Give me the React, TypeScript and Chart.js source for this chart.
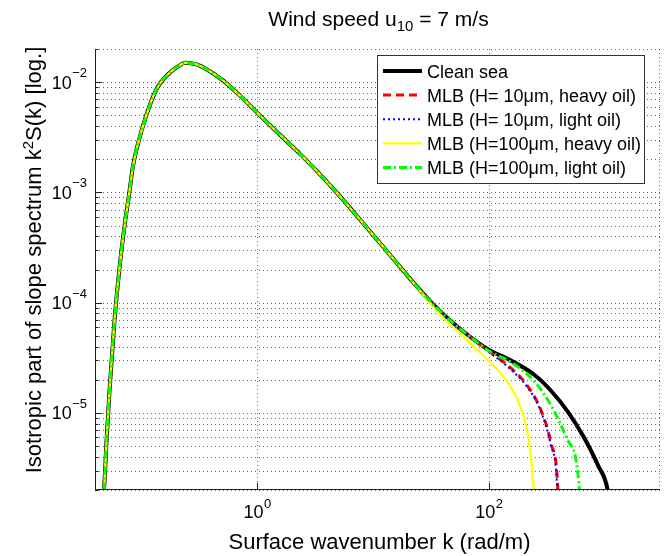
import React, { useEffect, useRef } from "react";
import { Chart, registerables } from "chart.js";

Chart.register(...registerables);

const FONT = '"Liberation Sans", Arial, Helvetica, sans-serif';

// ---------- data ----------
// shared part of all five spectra (k in rad/m, k^2 S(k))
const kCommon = [0.04372, 0.04774, 0.05028, 0.05338, 0.05897, 0.06515, 0.07197, 0.0795, 0.0849, 0.1036, 0.1354, 0.1765, 0.2154, 0.2379, 0.30, 0.3667, 0.5108, 0.7124, 0.994, 1.384, 1.931, 2.357, 3.512, 5.232, 7.796, 11.61, 16.2, 22.55];
const sCommon = [1.45e-6, 1.98e-6, 5.53e-6, 1.608e-5, 6.96e-5, 2.089e-4, 4.98e-4, 1.036e-3, 1.713e-3, 3.98e-3, 8.58e-3, 1.217e-2, 1.42e-2, 1.5e-2, 1.449e-2, 1.31e-2, 1.034e-2, 7.55e-3, 5.32e-3, 3.8e-3, 2.725e-3, 2.225e-3, 1.451e-3, 9.16e-4, 5.63e-4, 3.44e-4, 2.267e-4, 1.504e-4];

const kCleanTail = [33.61, 50.07, 69.87, 100.6, 145.2, 246.7, 344.2, 480, 668.6, 873.4, 1066, 1150];
const sCleanTail = [9.49e-5, 6.43e-5, 4.86e-5, 3.72e-5, 3.1e-5, 2.22e-5, 1.59e-5, 1.028e-5, 5.89e-6, 3.36e-6, 1.95e-6, 1.0e-6];

const kH10HeavyTail = [33.61, 50.07, 69.87, 100.6, 145.2, 216.3, 281.9, 344.2, 393.4, 402];
const sH10HeavyTail = [9.49e-5, 6.43e-5, 4.86e-5, 3.6e-5, 2.715e-5, 1.748e-5, 1.058e-5, 5.3e-6, 2.11e-6, 1.0e-6];

const kH10LightTail = [33.61, 50.07, 69.87, 100.6, 145.2, 216.3, 281.9, 342, 390, 398];
const sH10LightTail = [9.49e-5, 6.43e-5, 4.86e-5, 3.58e-5, 2.63e-5, 1.7e-5, 1.03e-5, 5.15e-6, 2.05e-6, 1.0e-6];

const kH100HeavyTail = [28.48, 38.4, 50.07, 65.4, 100.6, 145.2, 189.3, 223.4, 243.8, 250];
const sH100HeavyTail = [1.115e-4, 7.73e-5, 5.89e-5, 4.53e-5, 2.95e-5, 1.9e-5, 1.1e-5, 5.3e-6, 1.98e-6, 1.0e-6];

const kH100LightTail = [33.61, 50.07, 69.87, 100.6, 155.1, 246.7, 344.2, 480, 605.5, 618];
const sH100LightTail = [9.49e-5, 6.43e-5, 4.86e-5, 3.64e-5, 2.89e-5, 1.94e-5, 1.175e-5, 5.65e-6, 1.98e-6, 1.0e-6];

const seriesLabels = [
  "Clean sea",
  "MLB (H= 10\u03bcm, heavy oil)",
  "MLB (H= 10\u03bcm, light oil)",
  "MLB (H=100\u03bcm, heavy oil)",
  "MLB (H=100\u03bcm, light oil)",
];

const xTickValues = [1, 100];
const xTickExps = ["0", "2"];
const yTickValues = [1e-5, 1e-4, 1e-3, 1e-2];
const yTickExps = ["\u22125", "\u22124", "\u22123", "\u22122"];

const X_MIN = 0.04;
const X_MAX = 3000;
const Y_MIN = 2e-6;
const Y_MAX = 0.02;

// ---------- styles ----------
const seriesStyles = [
  { color: "#000000", width: 4, dash: [] as number[] },
  { color: "#ff0000", width: 3, dash: [8, 5] },
  { color: "#0000ff", width: 2, dash: [2, 3] },
  { color: "#ffff00", width: 2.3, dash: [] as number[] },
  { color: "#00ff00", width: 3, dash: [8, 3, 2, 3] },
];

const pts = (ks: number[], vs: number[]) => ks.map((k, i) => ({ x: k, y: vs[i] }));

const seriesData = [
  pts(kCommon.concat(kCleanTail), sCommon.concat(sCleanTail)),
  pts(kCommon.concat(kH10HeavyTail), sCommon.concat(sH10HeavyTail)),
  pts(kCommon.concat(kH10LightTail), sCommon.concat(sH10LightTail)),
  pts(kCommon.concat(kH100HeavyTail), sCommon.concat(sH100HeavyTail)),
  pts(kCommon.concat(kH100LightTail), sCommon.concat(sH100LightTail)),
];

function yGridValues(): number[] {
  const out: number[] = [];
  for (let d = -7; d <= -1; d++) {
    for (let m = 1; m <= 9; m++) {
      const v = Number((m * Math.pow(10, d)).toPrecision(3));
      if (v >= Y_MIN * 0.999 && v <= Y_MAX * 1.001) out.push(v);
    }
  }
  return out;
}

function textW(ctx: CanvasRenderingContext2D, t: string, size: number) {
  ctx.font = `${size}px ${FONT}`;
  return ctx.measureText(t).width;
}

const decorPlugin = {
  id: "decor",
  beforeDatasetsDraw(chart: any) {
    const { ctx, chartArea: a, scales } = chart;
    const xs = scales.x;
    const ys = scales.y;
    ctx.save();
    ctx.strokeStyle = "rgba(0,0,0,0.6)";
    ctx.lineWidth = 1;
    ctx.setLineDash([1, 3]);
    for (const v of yGridValues()) {
      const py = Math.round(ys.getPixelForValue(v)) + 0.5;
      ctx.beginPath();
      ctx.moveTo(a.left, py);
      ctx.lineTo(a.right, py);
      ctx.stroke();
    }
    for (const v of xTickValues) {
      const px = Math.round(xs.getPixelForValue(v)) + 0.5;
      ctx.beginPath();
      ctx.moveTo(px, a.top);
      ctx.lineTo(px, a.bottom);
      ctx.stroke();
    }
    const rx = Math.round(a.right) - 0.5;
    ctx.beginPath();
    ctx.moveTo(rx, a.top);
    ctx.lineTo(rx, a.bottom);
    ctx.stroke();
    ctx.restore();
  },
  afterDraw(chart: any) {
    const { ctx, chartArea: a, scales } = chart;
    const xs = scales.x;
    const ys = scales.y;
    ctx.save();
    ctx.setLineDash([]);
    ctx.strokeStyle = "#222";
    ctx.lineWidth = 1;
    const lx = Math.round(a.left) + 0.5;
    const by = Math.round(a.bottom) - 0.5;
    ctx.beginPath();
    ctx.moveTo(lx, a.top);
    ctx.lineTo(lx, a.bottom);
    ctx.moveTo(a.left, by);
    ctx.lineTo(a.right, by);
    ctx.stroke();

    for (const v of yGridValues()) {
      const py = Math.round(ys.getPixelForValue(v)) + 0.5;
      const lg = Math.log10(v);
      const major = Math.abs(lg - Math.round(lg)) < 1e-6;
      ctx.beginPath();
      ctx.moveTo(a.left, py);
      ctx.lineTo(a.left + (major ? 7 : 3.5), py);
      ctx.stroke();
    }
    for (const v of xTickValues) {
      const px = Math.round(xs.getPixelForValue(v)) + 0.5;
      ctx.beginPath();
      ctx.moveTo(px, a.bottom);
      ctx.lineTo(px, a.bottom - 7);
      ctx.stroke();
    }

    ctx.fillStyle = "#000";
    ctx.textBaseline = "alphabetic";
    ctx.textAlign = "left";

    yTickValues.forEach((v, i) => {
      const py = ys.getPixelForValue(v);
      const we = textW(ctx, yTickExps[i], 13);
      const wb = textW(ctx, "10", 18);
      const right = a.left - 8;
      ctx.font = `18px ${FONT}`;
      ctx.fillText("10", right - we - wb - 0.5, py + 6.5);
      ctx.font = `13px ${FONT}`;
      ctx.fillText(yTickExps[i], right - we, py - 5);
    });

    xTickValues.forEach((v, i) => {
      const px = xs.getPixelForValue(v);
      const we = textW(ctx, xTickExps[i], 13);
      const wb = textW(ctx, "10", 18);
      const left = px - (we + wb) / 2;
      ctx.font = `18px ${FONT}`;
      ctx.fillText("10", left, 518);
      ctx.font = `13px ${FONT}`;
      ctx.fillText(xTickExps[i], left + wb + 0.5, 508);
    });

    ctx.font = `22px ${FONT}`;
    ctx.textAlign = "center";
    ctx.fillText("Surface wavenumber k (rad/m)", (a.left + a.right) / 2 + 2, 549);

    {
      const p1 = "Isotropic part of slope spectrum k";
      const p2 = "2";
      const p3 = "S(k) [log.]";
      const w1 = textW(ctx, p1, 22);
      const w2 = textW(ctx, p2, 15);
      const w3 = textW(ctx, p3, 22);
      const total = w1 + w2 + w3;
      ctx.save();
      ctx.translate(41, 260);
      ctx.rotate(-Math.PI / 2);
      ctx.textAlign = "left";
      let cx = -total / 2;
      ctx.font = `22px ${FONT}`;
      ctx.fillText(p1, cx, 0);
      cx += w1;
      ctx.font = `15px ${FONT}`;
      ctx.fillText(p2, cx, -8);
      cx += w2;
      ctx.font = `22px ${FONT}`;
      ctx.fillText(p3, cx, 0);
      ctx.restore();
    }

    {
      const p1 = "Wind speed u";
      const p2 = "10";
      const p3 = " = 7 m/s";
      const w1 = textW(ctx, p1, 21);
      const w2 = textW(ctx, p2, 15);
      const w3 = textW(ctx, p3, 21);
      const total = w1 + w2 + w3;
      let cx = (a.left + a.right) / 2 + 1 - total / 2;
      ctx.textAlign = "left";
      ctx.font = `21px ${FONT}`;
      ctx.fillText(p1, cx, 26);
      cx += w1;
      ctx.font = `15px ${FONT}`;
      ctx.fillText(p2, cx, 31);
      cx += w2;
      ctx.font = `21px ${FONT}`;
      ctx.fillText(p3, cx, 26);
    }

    {
      const bx = 377.5, byy = 55.5, bw = 267, bh = 128;
      ctx.fillStyle = "#fff";
      ctx.fillRect(bx, byy, bw, bh);
      ctx.strokeStyle = "#333";
      ctx.lineWidth = 1;
      ctx.setLineDash([]);
      ctx.strokeRect(bx, byy, bw, bh);
      seriesLabels.forEach((lab, i) => {
        const cy = 71 + i * 24.1;
        const st = seriesStyles[i];
        ctx.save();
        ctx.strokeStyle = st.color;
        ctx.lineWidth = st.width;
        ctx.lineCap = "butt";
        ctx.setLineDash(st.dash);
        ctx.beginPath();
        ctx.moveTo(383, cy);
        ctx.lineTo(422, cy);
        ctx.stroke();
        ctx.restore();
        ctx.fillStyle = "#000";
        ctx.font = `18px ${FONT}`;
        ctx.textAlign = "left";
        ctx.fillText(lab, 427, cy + 6.5);
      });
    }
    ctx.restore();
  },
};

export default function App() {
  const ref = useRef<HTMLCanvasElement>(null);
  useEffect(() => {
    document.body.style.margin = "0";
    const canvas = ref.current!;
    const order = [5, 4, 3, 2, 1];
    const chart = new Chart(canvas, {
      type: "line",
      data: {
        datasets: seriesData.map((d, i) => ({
          label: seriesLabels[i],
          data: d,
          borderColor: seriesStyles[i].color,
          backgroundColor: seriesStyles[i].color,
          borderWidth: seriesStyles[i].width,
          borderDash: seriesStyles[i].dash,
          borderCapStyle: "butt",
          pointRadius: 0,
          pointHoverRadius: 0,
          fill: false,
          cubicInterpolationMode: "monotone",
          clip: 0,
          order: order[i],
        })),
      },
      options: {
        animation: false,
        responsive: false,
        devicePixelRatio: 1,
        events: [],
        layout: { padding: { top: 49, right: 11, left: 0, bottom: 0 } },
        plugins: {
          legend: { display: false },
          title: { display: false },
          tooltip: { enabled: false },
        },
        scales: {
          x: {
            type: "logarithmic",
            min: X_MIN,
            max: X_MAX,
            ticks: { display: false },
            grid: { display: false },
            border: { display: false },
            afterFit: (s: any) => {
              s.height = 66;
            },
          },
          y: {
            type: "logarithmic",
            min: Y_MIN,
            max: Y_MAX,
            ticks: { display: false },
            grid: { display: false },
            border: { display: false },
            afterFit: (s: any) => {
              s.width = 95;
            },
          },
        },
      } as any,
      plugins: [decorPlugin],
    });
    return () => chart.destroy();
  }, []);
  return (
    <div style={{ width: 671, height: 556, background: "#fff" }}>
      <canvas ref={ref} width={671} height={556} />
    </div>
  );
}
